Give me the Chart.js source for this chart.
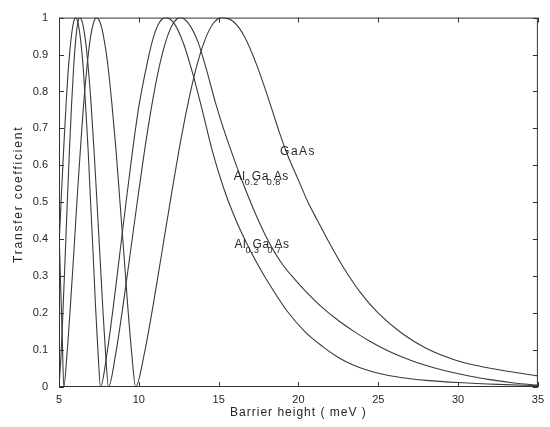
<!DOCTYPE html>
<html>
<head>
<meta charset="utf-8">
<script src="https://cdn.jsdelivr.net/npm/chart.js@4.4.1/dist/chart.umd.min.js"></script>
<style>
  html, body { margin: 0; padding: 0; background: #fff; }
  #wrap { width: 550px; height: 427px; }
</style>
</head>
<body>
<div id="wrap"><canvas id="chart"></canvas></div>
<script>
// Al0.3Ga0.7As
const xA = [5.0, 5.15, 5.3, 5.45, 5.6, 5.75, 5.9, 6.05, 6.2, 6.36, 6.52, 6.67, 6.83, 6.98, 7.14, 7.29, 7.45, 7.6,
  8.0, 8.4, 8.8, 9.2, 9.6, 10.0, 10.45, 10.85, 11.25, 11.67, 12.2, 12.8, 13.4, 14.0, 14.6, 15.3, 16.0, 16.8, 17.8, 18.3,
  19.3, 20.4, 21.5, 22.5, 23.5, 25.0, 26.5, 28.0, 30.0, 32.5, 35.0];
const yA = [0.38, 0.52, 0.65, 0.77, 0.87, 0.94, 0.985, 1.0, 0.984, 0.937, 0.861, 0.759, 0.637, 0.50, 0.358, 0.217, 0.089, 0.0,
  0.089, 0.217, 0.358, 0.50, 0.637, 0.759, 0.861, 0.937, 0.984, 1.0, 0.985, 0.93, 0.845, 0.745, 0.64, 0.54, 0.46, 0.385, 0.305, 0.27,
  0.205, 0.15, 0.11, 0.08, 0.058, 0.037, 0.025, 0.018, 0.012, 0.007, 0.004];

// Al0.2Ga0.8As
const xB = [5.0, 5.13, 5.26, 5.39, 5.52, 5.65, 5.78, 5.91, 6.04, 6.17, 6.3, 6.48, 6.66, 6.84, 7.02, 7.2, 7.38, 7.56, 7.74, 7.92, 8.1,
  8.55, 9.0, 9.45, 9.9, 10.35, 10.8, 11.25, 11.7, 12.15, 12.6, 13.1, 13.7, 14.2, 14.8, 15.3, 15.9, 16.5, 17.2, 18.0, 18.95,
  19.8, 20.5, 21.5, 22.5, 23.5, 24.5, 25.5, 26.5, 27.5, 28.6, 29.6, 30.7, 32.0, 33.5, 35.0];
const yB = [0, 0.089, 0.217, 0.358, 0.50, 0.637, 0.759, 0.861, 0.937, 0.984, 1.0, 0.984, 0.937, 0.861, 0.759, 0.637, 0.50, 0.358, 0.217, 0.089, 0,
  0.089, 0.217, 0.358, 0.50, 0.637, 0.759, 0.861, 0.937, 0.984, 1.0, 0.985, 0.935, 0.865, 0.77, 0.70, 0.625, 0.555, 0.48, 0.405, 0.335,
  0.29, 0.257, 0.215, 0.18, 0.15, 0.123, 0.10, 0.081, 0.065, 0.051, 0.04, 0.03, 0.02, 0.011, 0.005];

// GaAs
const xC = [5.0, 5.1, 5.2, 5.3, 5.5, 5.71, 5.92, 6.12, 6.33, 6.53, 6.74, 6.94, 7.15, 7.35, 7.6, 7.84, 8.09, 8.33, 8.58, 8.82, 9.07, 9.31, 9.56, 9.8,
  10.34, 10.88, 11.42, 11.96, 12.5, 13.04, 13.58, 14.12, 14.66, 15.2, 15.9, 16.6, 17.4, 18.2, 18.8, 19.3, 20.0, 20.6, 21.2, 22.0,
  22.8, 23.9, 25.0, 26.5, 28.0, 29.9, 31.5, 33.2, 35.0];
const yC = [0.42, 0.28, 0.14, 0, 0.089, 0.217, 0.358, 0.50, 0.637, 0.759, 0.861, 0.937, 0.984, 1.0, 0.984, 0.937, 0.861, 0.759, 0.637, 0.50, 0.358, 0.217, 0.089, 0,
  0.089, 0.217, 0.358, 0.50, 0.637, 0.759, 0.861, 0.937, 0.984, 1.0, 0.99, 0.95, 0.87, 0.77, 0.69, 0.63, 0.56, 0.50, 0.45, 0.385,
  0.325, 0.255, 0.20, 0.145, 0.105, 0.072, 0.055, 0.042, 0.03];

const xTicks = [5, 10, 15, 20, 25, 30, 35];
const yTicks = [0, 0.1, 0.2, 0.3, 0.4, 0.5, 0.6, 0.7, 0.8, 0.9, 1];

const xTitle = 'Barrier height ( meV )';
const yTitle = 'Transfer coefficient';

const FONT = '"Liberation Sans", Arial, sans-serif';
const INK = '#262626';

function toPoints(xs, ys) {
  return xs.map((x, i) => ({ x: x, y: ys[i] }));
}

function lineSet(label, xs, ys) {
  return {
    label: label,
    data: toPoints(xs, ys),
    borderColor: '#3a3a3a',
    borderWidth: 1.1,
    pointRadius: 0,
    fill: false,
    cubicInterpolationMode: 'monotone'
  };
}

// formula such as Al0.2Ga0.8As: words on the baseline, fractions lowered under the gaps
function drawFormula(ctx, words, subs, x, y) {
  const wordDx = [0, 18, 40];
  const subDx = [11, 33];
  ctx.font = '12px ' + FONT;
  words.forEach((w, i) => ctx.fillText(w, x + wordDx[i], y));
  ctx.font = '9px ' + FONT;
  subs.forEach((s, i) => ctx.fillText(s, x + subDx[i], y + 5));
}

const decor = {
  id: 'decor',
  afterDraw(chart) {
    const ctx = chart.ctx;
    const a = chart.chartArea;
    const xs = chart.scales.x, ys = chart.scales.y;
    ctx.save();
    ctx.strokeStyle = '#333';
    ctx.lineWidth = 1;
    ctx.strokeRect(a.left + 0.5, a.top + 0.5, a.right - a.left - 1, a.bottom - a.top - 1);
    ctx.beginPath();
    xTicks.forEach(v => {
      const px = Math.round(xs.getPixelForValue(v)) + 0.5;
      ctx.moveTo(px, a.bottom); ctx.lineTo(px, a.bottom - 5);
      ctx.moveTo(px, a.top); ctx.lineTo(px, a.top + 5);
    });
    yTicks.forEach(v => {
      const py = Math.round(ys.getPixelForValue(v)) + 0.5;
      ctx.moveTo(a.left, py); ctx.lineTo(a.left + 5, py);
      ctx.moveTo(a.right, py); ctx.lineTo(a.right - 5, py);
    });
    ctx.stroke();

    // axis titles
    ctx.fillStyle = INK;
    ctx.font = '12px ' + FONT;
    ctx.letterSpacing = '1px';
    ctx.textAlign = 'center';
    ctx.textBaseline = 'middle';
    ctx.fillText(xTitle, (a.left + a.right) / 2, 413);
    ctx.save();
    ctx.translate(19, (a.top + a.bottom) / 2 - 8);
    ctx.rotate(-Math.PI / 2);
    ctx.letterSpacing = '1.8px';
    ctx.fillText(yTitle, 0, 0);
    ctx.restore();

    // curve labels
    ctx.textAlign = 'left';
    ctx.textBaseline = 'alphabetic';
    ctx.font = '12px ' + FONT;
    ctx.letterSpacing = '1.5px';
    ctx.fillText('GaAs', xs.getPixelForValue(18.85), ys.getPixelForValue(0.627));
    ctx.letterSpacing = '0.5px';
    drawFormula(ctx, ['Al', 'Ga', 'As'], ['0.2', '0.8'], xs.getPixelForValue(15.95), ys.getPixelForValue(0.56));
    drawFormula(ctx, ['Al', 'Ga', 'As'], ['0.3', '0.7'], xs.getPixelForValue(16.0), ys.getPixelForValue(0.375));
    ctx.restore();
  }
};

const ctx = document.getElementById('chart').getContext('2d');
new Chart(ctx, {
  type: 'line',
  data: {
    datasets: [
      lineSet('Al0.3Ga0.7As', xA, yA),
      lineSet('Al0.2Ga0.8As', xB, yB),
      lineSet('GaAs', xC, yC)
    ]
  },
  options: {
    responsive: true,
    maintainAspectRatio: false,
    animation: false,
    layout: { padding: { top: 14, right: 7, left: 0, bottom: 0 } },
    plugins: {
      legend: { display: false },
      tooltip: { enabled: false }
    },
    scales: {
      x: {
        type: 'linear',
        min: 5,
        max: 35,
        afterBuildTicks: s => { s.ticks = xTicks.map(v => ({ value: v })); },
        afterFit: s => { s.height = 40; },
        grid: { display: false, drawTicks: false },
        border: { display: false },
        ticks: { color: INK, font: { family: FONT, size: 11 }, padding: 6, maxRotation: 0 }
      },
      y: {
        type: 'linear',
        min: 0,
        max: 1,
        afterBuildTicks: s => { s.ticks = yTicks.map(v => ({ value: v })); },
        afterFit: s => { s.width = 59; },
        grid: { display: false, drawTicks: false },
        border: { display: false },
        ticks: { color: INK, font: { family: FONT, size: 11 }, padding: 11, callback: v => String(v) }
      }
    }
  },
  plugins: [decor]
});
</script>
</body>
</html>
